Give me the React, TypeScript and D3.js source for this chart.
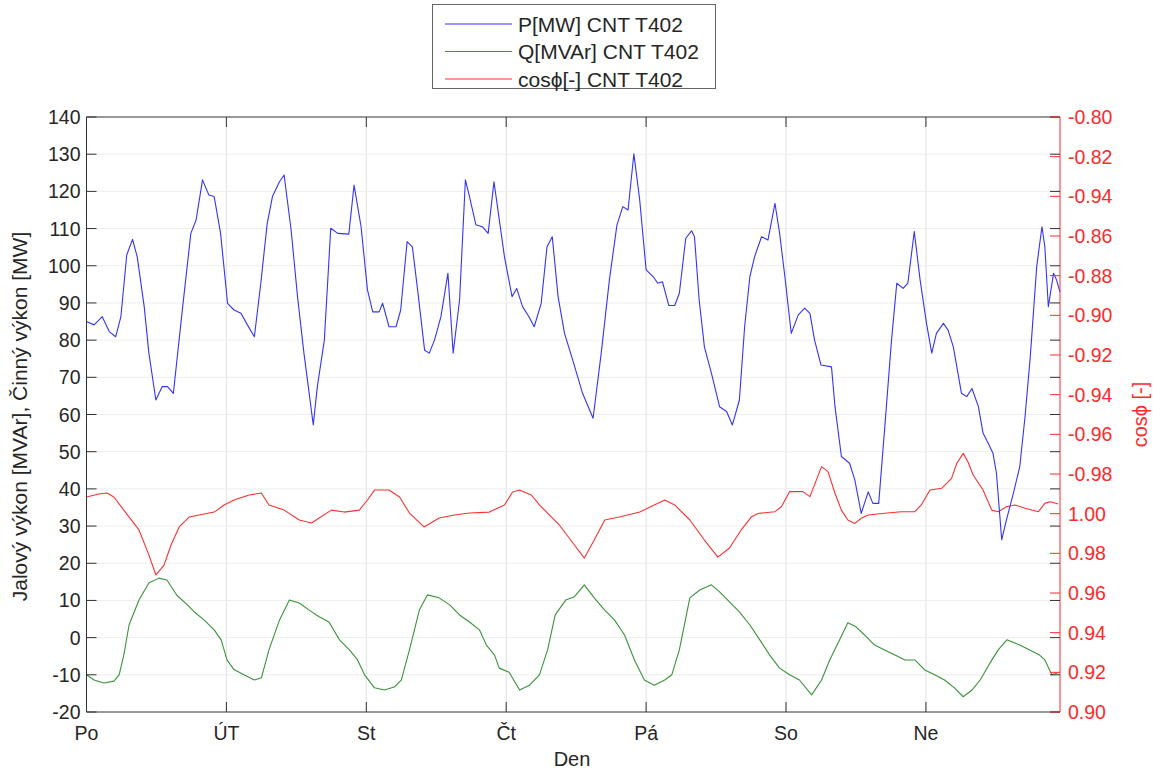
import React from "react";
import * as d3 from "d3";

// Week of hourly readings for transformer T402
const dayLabels = ["Po", "ÚT", "St", "Čt", "Pá", "So", "Ne"];
const dayStartHours = [0, 24, 48, 72, 96, 120, 144];
const lastHour = 167;

const leftTicks = [-20, -10, 0, 10, 20, 30, 40, 50, 60, 70, 80, 90, 100, 110, 120, 130, 140];

// cos phi axis: positions run 0.90 .. 1.00 .. 1.20 (values above 1 are the negative side)
const cosTickValues = [0.9, 0.92, 0.94, 0.96, 0.98, 1.0, 1.02, 1.04, 1.06, 1.08, 1.1, 1.12, 1.14, 1.16, 1.18, 1.2];
const cosTickLabels = [
  "0.90", "0.92", "0.94", "0.96", "0.98", "1.00",
  "-0.98", "-0.96", "-0.94", "-0.92", "-0.90", "-0.88", "-0.86", "-0.94", "-0.82", "-0.80",
];

// P [MW]
const pHours = [
  0, 1.3, 2.7, 3.9, 5.0, 5.9, 6.9, 7.9, 8.7, 9.9, 10.7, 11.9, 13.0, 13.9, 14.9, 16.5, 17.9, 18.8, 19.9, 21.0,
  21.9, 23.0, 24.2, 25.3, 26.5, 27.6, 28.8, 29.9, 31.0, 31.9, 33.1, 33.9, 35.1, 36.2, 37.3, 38.9, 39.6, 40.8,
  41.9, 43.1, 45.0, 45.9, 47.1, 48.2, 49.1, 50.2, 50.8, 51.9, 53.1, 53.9, 55.0, 55.9, 56.8, 58.0, 58.8, 59.7,
  60.8, 62.0, 62.9, 64.0, 65.0, 65.7, 66.8, 67.9, 68.9, 69.9, 70.5, 71.7, 73.0, 73.8, 74.8, 75.9, 76.8, 78.0,
  79.0, 79.9, 80.9, 82.0, 83.4, 85.1, 86.9, 88.3, 89.7, 91.0, 92.0, 92.9, 93.9, 94.9, 96.0, 97.2, 98.0, 98.8,
  99.9, 100.9, 101.7, 102.8, 103.8, 104.3, 105.1, 106.0, 107.2, 108.6, 109.8, 110.8, 112.0, 112.9, 113.8,
  114.6, 115.8, 116.9, 118.1, 118.9, 119.8, 120.9, 122.1, 123.2, 124.1, 124.9, 126.0, 127.8, 128.4, 129.5,
  130.9, 131.8, 132.9, 134.1, 134.9, 135.9, 136.9, 138.1, 139.0, 140.1, 140.9, 142.0, 143.0, 144.1, 145.0,
  145.8, 147.0, 147.8, 148.7, 150.1, 151.0, 151.9, 153.0, 153.8, 154.7, 155.5, 156.1, 157.0, 157.8, 159.0,
  160.1, 161.0, 161.9, 163.0, 163.9, 164.4, 165.0, 165.9, 166.4, 167.0,
];
const pMW = [
  85.0, 84.1, 86.3, 82.3, 80.9, 86.3, 102.9, 107.1, 102.4, 89.0, 76.5, 63.9, 67.5, 67.5, 65.7, 89.0, 108.7, 112.3, 123.1, 119.0,
  118.6, 108.7, 89.9, 88.1, 87.2, 84.1, 80.9, 95.3, 111.4, 118.6, 122.6, 124.4, 109.6, 91.7, 76.5, 57.2, 67.5, 80.0,
  110.1, 108.7, 108.5, 121.7, 110.5, 93.5, 87.6, 87.6, 89.9, 83.6, 83.6, 88.1, 106.5, 105.1, 93.5, 77.3, 76.5, 80.0,
  86.3, 98.0, 76.5, 90.8, 123.1, 118.6, 111.0, 110.5, 108.7, 122.6, 115.9, 102.4, 91.7, 93.9, 89.0, 86.3, 83.6, 89.9,
  105.1, 107.8, 91.7, 81.8, 74.7, 65.7, 59.0, 76.5, 96.2, 111.0, 115.9, 115.0, 130.1, 117.7, 98.9, 97.1, 95.3, 95.7,
  89.3, 89.3, 92.6, 107.4, 109.4, 107.8, 90.8, 78.2, 71.1, 62.1, 60.8, 57.2, 63.9, 83.6, 97.1,
  102.4, 107.8, 106.9, 116.8, 108.7, 97.1, 81.8, 86.8, 88.6, 87.2, 80.0, 73.3, 72.8, 62.1, 48.7,
  46.9, 42.4, 33.4, 39.2, 36.1, 36.1, 55.8, 80.0, 95.3, 93.9, 95.3, 109.2, 96.2, 84.5, 76.5,
  81.8, 84.5, 82.7, 78.2, 65.7, 64.8, 67.0, 62.1, 55.0, 52.2, 49.6, 44.2, 26.3, 31.6, 38.8,
  46.0, 59.4, 75.5, 99.7, 110.5, 105.1, 89.0, 98.0, 96.2, 93.0,
];

// Q [MVAr]
const qHours = [
  0, 1.3, 3.0, 4.7, 5.6, 6.4, 7.3, 9.0, 10.7, 12.4, 13.8, 15.5, 17.3, 18.5, 20.2, 21.9, 23.1, 24.1, 25.3, 27.0,
  28.8, 30.0, 31.3, 33.1, 34.8, 36.5, 38.2, 39.9, 41.6, 43.4, 45.1, 46.5, 47.7, 49.4, 51.1, 52.8, 54.0, 55.4,
  57.1, 58.5, 60.5, 62.3, 64.0, 65.7, 67.4, 68.6, 70.0, 70.8, 72.5, 74.3, 76.0, 77.7, 79.1, 80.4, 82.2, 83.7,
  85.4, 87.1, 88.9, 90.6, 92.3, 94.0, 95.7, 97.4, 99.2, 100.4, 101.7, 103.5, 105.2, 107.2, 108.6, 110.3, 112.0,
  113.8, 115.5, 117.2, 118.9, 120.6, 122.3, 124.4, 126.1, 127.5, 129.2, 130.6, 132.0, 133.5, 135.2, 136.9,
  138.7, 140.4, 142.1, 143.8, 145.5, 147.2, 148.9, 150.4, 151.9, 153.3, 155.0, 156.4, 157.9, 160.1, 161.8,
  163.5, 164.4, 165.6, 166.6,
];
const qMVAr = [
  -10.0, -11.4, -12.2, -11.7, -10.0, -4.7, 3.4, 10.1, 14.7, 16.0, 15.5, 11.4, 8.8, 6.9, 4.7, 2.1, -0.6, -6.0, -8.6, -10.0,
  -11.4, -10.8, -3.3, 4.7, 10.1, 9.3, 7.4, 5.6, 4.2, -0.6, -3.3, -6.0, -10.0, -13.5, -14.1, -13.3, -11.4, -3.3,
  7.4, 11.5, 10.7, 8.8, 6.1, 4.2, 2.1, -2.0, -4.7, -8.2, -9.3, -14.1, -12.8, -10.0, -3.3, 6.1, 10.1, 11.0,
  14.2, 10.7, 7.4, 4.7, 0.7, -6.0, -11.4, -12.8, -11.4, -10.0, -3.3, 10.7, 12.8, 14.2, 12.3, 9.6, 6.9,
  3.4, -0.6, -4.7, -8.2, -10.0, -11.4, -15.4, -11.4, -6.0, -0.6, 4.0, 2.9, 0.7, -2.0, -3.3,
  -4.7, -6.0, -6.0, -8.7, -10.0, -11.4, -13.5, -15.9, -14.1, -11.4, -6.8, -3.3, -0.6, -2.0, -3.3,
  -4.7, -6.0, -10.0, -9.5,
];

// cos phi [-], signed as on the right axis
const cHours = [
  0, 2.1, 3.5, 4.7, 6.4, 9.0, 10.7, 11.9, 13.3, 14.5, 15.9, 17.6, 19.3, 21.9, 23.6, 25.3, 27.9, 30.0, 31.3, 33.9,
  36.5, 38.6, 39.9, 42.0, 44.2, 46.8, 48.2, 49.4, 51.9, 53.7, 55.4, 57.9, 60.5, 63.1, 65.7, 69.1, 71.7, 73.1,
  74.3, 76.3, 77.7, 81.1, 83.7, 85.4, 87.1, 88.9, 91.4, 94.9, 97.4, 99.2, 100.9, 103.5, 106.0, 108.3, 110.3,
  112.3, 114.1, 115.2, 118.1, 119.2, 120.6, 122.9, 124.1, 126.1, 127.2, 128.4, 129.5, 130.6, 131.8, 132.9,
  134.1, 136.9, 139.8, 142.1, 143.2, 144.7, 146.7, 148.4, 149.3, 150.4, 151.2, 152.1, 153.8, 155.3, 156.4,
  157.8, 159.3, 161.0, 163.3, 164.4, 165.3, 166.7,
];
const cosPhi = [
  -0.9916, -0.9901, -0.9896, -0.9916, -0.9982, 0.9918, 0.9792, 0.9691, 0.9741, 0.9842, 0.9933, 0.9983, 0.9993, -0.9992, -0.9956, -0.9931, -0.9906, -0.9896, -0.9956, -0.9982,
  0.9968, 0.9953, 0.9978, -0.9982, -0.9992, -0.9982, -0.9931, -0.9881, -0.9881, -0.9916, -0.9997, 0.9933, 0.9978, 0.9993, -0.9997, -0.9992, -0.9956, -0.9891,
  -0.9881, -0.9906, -0.9956, 0.9943, 0.9842, 0.9776, 0.9867, 0.9968, 0.9983, -0.9992, -0.9956, -0.9931, -0.9956, 0.9968, 0.9867, 0.9781, 0.9827,
  0.9918, 0.9985, -0.9999, -0.999, -0.9965, -0.9889, -0.9889, -0.9914, -0.9763, -0.9788, -0.9897, -0.9982, 0.9968, 0.9951, 0.9977,
  0.9993, -0.9998, -0.999, -0.999, -0.9956, -0.9881, -0.9872, -0.9822, -0.9746, -0.9696, -0.9738, -0.9805, -0.9881, -0.9982, -0.999,
  -0.9965, -0.9956, -0.9973, -0.999, -0.9948, -0.994, -0.9951,
];

const legendItems = [
  { label: "P[MW] CNT T402", color: "#3333ff" },
  { label: "Q[MVAr] CNT T402", color: "#389438" },
  { label: "cosϕ[-] CNT T402", color: "#ff3030" },
];

const W = 1153;
const H = 772;
const left = 86.5;
const right = 1060;
const top = 117;
const bottom = 712;
const font = "'Liberation Sans', Arial, Helvetica, sans-serif";
const axisColor = "#333";
const textColor = "#262626";
const redAxis = "#ff2a2a";
const tickLen = 10;

// fold a signed cos phi onto the linear axis position
const unfold = (c: number) => (c >= 0 ? c : 2 + c);

export default function App() {
  const x = d3.scaleLinear().domain([0, lastHour]).range([left, right]);
  const yL = d3.scaleLinear().domain([-20, 140]).range([bottom, top]);
  const yR = d3.scaleLinear().domain([0.9, 1.2]).range([bottom, top]);

  const lineL = d3
    .line<[number, number]>()
    .x((d) => x(d[0]))
    .y((d) => yL(d[1]));
  const lineR = d3
    .line<[number, number]>()
    .x((d) => x(d[0]))
    .y((d) => yR(unfold(d[1])));

  const pPts = pHours.map((h, i) => [h, pMW[i]] as [number, number]);
  const qPts = qHours.map((h, i) => [h, qMVAr[i]] as [number, number]);
  const cPts = cHours.map((h, i) => [h, cosPhi[i]] as [number, number]);

  const midY = (top + bottom) / 2;

  return (
    <svg
      width={W}
      height={H}
      style={{ position: "absolute", left: 0, top: 0, background: "#fff" }}
      fontFamily={font}
    >
      <rect x={0} y={0} width={W} height={H} fill="#fff" />

      {/* grid */}
      <g strokeWidth={1}>
        {dayStartHours.slice(1).map((h) => (
          <line key={"vg" + h} x1={x(h)} x2={x(h)} y1={top} y2={bottom} stroke="#e0e0e0" />
        ))}
        {leftTicks.slice(1, -1).map((v) => (
          <line key={"hg" + v} x1={left} x2={right} y1={yL(v)} y2={yL(v)} stroke="#ededed" />
        ))}
      </g>

      {/* series */}
      <g fill="none" strokeWidth={1.1} strokeLinejoin="round">
        <path d={lineL(qPts) || ""} stroke={legendItems[1].color} />
        <path d={lineR(cPts) || ""} stroke={legendItems[2].color} />
        <path d={lineL(pPts) || ""} stroke={legendItems[0].color} />
      </g>

      {/* box */}
      <g stroke={axisColor} strokeWidth={1} fill="none">
        <line x1={left} x2={right} y1={top} y2={top} />
        <line x1={left} x2={right} y1={bottom} y2={bottom} />
        <line x1={left} x2={left} y1={top} y2={bottom} />
      </g>
      <line x1={right} x2={right} y1={top} y2={bottom} stroke={redAxis} strokeWidth={1} />

      {/* left ticks, mirrored on the right; day ticks top and bottom */}
      <g stroke={axisColor} strokeWidth={1}>
        {leftTicks.map((v) => (
          <g key={"lt" + v}>
            <line x1={left} x2={left + tickLen} y1={yL(v)} y2={yL(v)} />
            <line x1={right - tickLen} x2={right} y1={yL(v)} y2={yL(v)} />
          </g>
        ))}
        {dayStartHours.map((h) => (
          <g key={"xt" + h}>
            <line x1={x(h)} x2={x(h)} y1={bottom} y2={bottom - tickLen} />
            <line x1={x(h)} x2={x(h)} y1={top} y2={top + tickLen} />
          </g>
        ))}
      </g>
      <g stroke={redAxis} strokeWidth={1}>
        {cosTickValues.map((v) => (
          <line key={"rt" + v} x1={right - tickLen} x2={right} y1={yR(v)} y2={yR(v)} />
        ))}
      </g>

      {/* tick labels */}
      <g fontSize={19.5} fill={textColor}>
        {leftTicks.map((v) => (
          <text key={"ll" + v} x={left - 6} y={yL(v)} textAnchor="end" dy="0.36em">
            {v}
          </text>
        ))}
        {dayStartHours.map((h, i) => (
          <text key={"xl" + h} x={x(h)} y={bottom + 28} textAnchor="middle">
            {dayLabels[i]}
          </text>
        ))}
      </g>
      <g fontSize={19.5} fill={redAxis}>
        {cosTickValues.map((v, i) => (
          <text key={"rl" + v} x={right + 8} y={yR(v)} dy="0.36em">
            {cosTickLabels[i]}
          </text>
        ))}
      </g>

      {/* axis titles */}
      <text x={572} y={766} fontSize={20} fill={textColor} textAnchor="middle">
        Den
      </text>
      <text
        transform={`translate(19,${midY + 2}) rotate(-90)`}
        fontSize={21}
        fill={textColor}
        textAnchor="middle"
        dy="0.36em"
      >
        Jalový výkon [MVAr], Činný výkon [MW]
      </text>
      <text
        transform={`translate(1140,${midY}) rotate(-90)`}
        fontSize={20}
        fill={redAxis}
        textAnchor="middle"
        dy="0.36em"
      >
        cosϕ [-]
      </text>

      {/* legend */}
      <g>
        <rect x={432.5} y={4.5} width={283} height={84} fill="#fff" stroke="#666" strokeWidth={1} />
        {legendItems.map((it, i) => {
          const ly = 24 + i * 27.5;
          return (
            <g key={it.label}>
              <line x1={445} x2={512} y1={ly} y2={ly} stroke={it.color} strokeWidth={1.1} />
              <text x={518} y={ly} dy="0.36em" fontSize={21} fill={textColor}>
                {it.label}
              </text>
            </g>
          );
        })}
      </g>
    </svg>
  );
}
